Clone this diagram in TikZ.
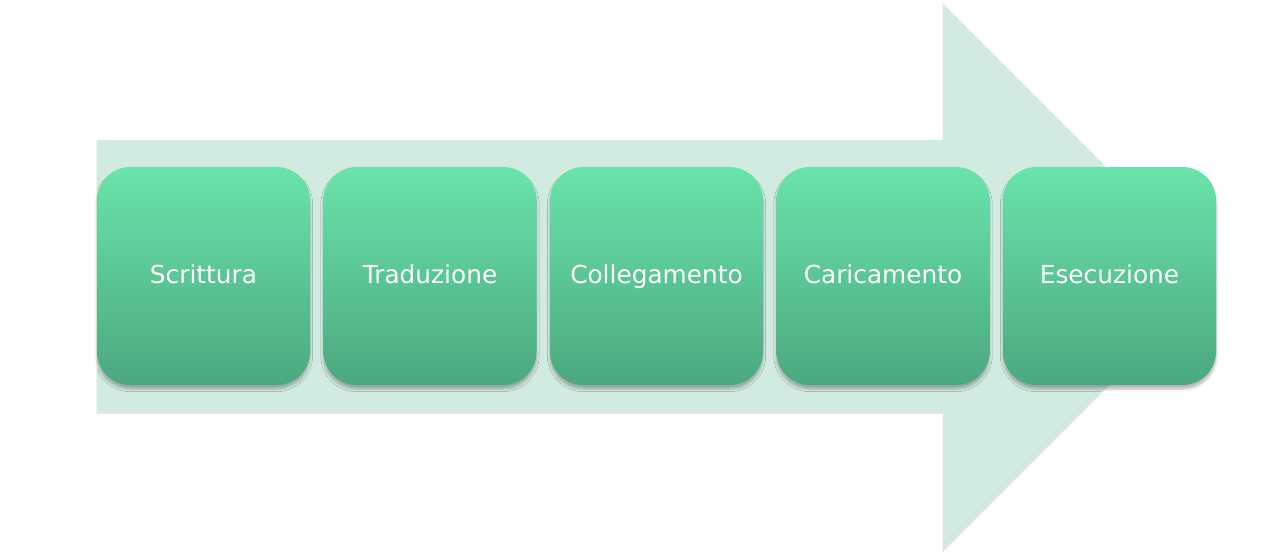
\documentclass[tikz,border=0pt]{standalone}
\usepackage{fontspec}
\setmainfont{DejaVu Sans}
\usetikzlibrary{shadows,shadows.blur}
\definecolor{arrowfill}{HTML}{D2EBE0}
\definecolor{boxtop}{HTML}{6AE4AA}
\definecolor{boxbot}{HTML}{4BA87F}
\tikzset{
  stage/.style={rounded corners=25pt, top color=boxtop, bottom color=boxbot,
    minimum width=159.75pt, minimum height=163.5pt, inner sep=0pt,
    text=white, font=\fontsize{18.6}{22}\selectfont, text height=15pt, text depth=4pt,
    blur shadow={shadow xshift=0pt, shadow yshift=-3pt, shadow blur radius=2pt, shadow blur steps=6, shadow opacity=28}},
  bigarrow/.style={fill=arrowfill,
    blur shadow={shadow xshift=0pt, shadow yshift=-1pt, shadow blur radius=1pt, shadow blur steps=3, shadow opacity=15}}
}
\begin{document}
\begin{tikzpicture}[x=0.75pt,y=-0.75pt]
\useasboundingbox (0,0) rectangle (1280,554);
\fill[bigarrow] (97,140) -- (943,140) -- (943,4) -- (1216,277) -- (943,550) -- (943,412) -- (97,412) -- cycle;
\node[stage] (s1) at (203.5,276) {Scrittura};
\node[stage] (s2) at (430,276) {Traduzione};
\node[stage] (s3) at (656.5,276) {Collegamento};
\node[stage] (s4) at (883,276) {Caricamento};
\node[stage] (s5) at (1109.5,276) {Esecuzione};
\end{tikzpicture}
\end{document}
